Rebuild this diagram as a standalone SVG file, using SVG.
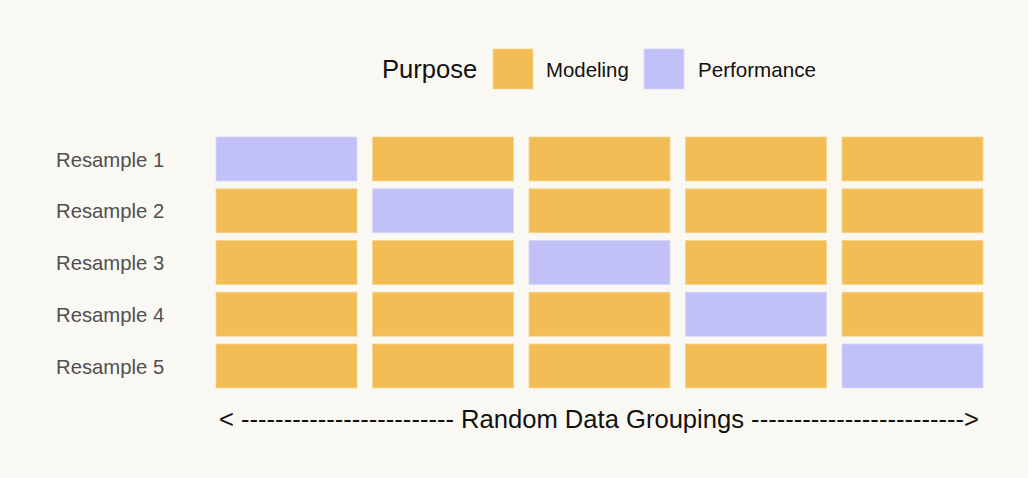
<svg xmlns="http://www.w3.org/2000/svg" width="1028" height="478" viewBox="0 0 1028 478">
<style>
.m{fill:#F3BD55;stroke:#F7D48F;stroke-width:0.8}
.p{fill:#C1C1F8;stroke:#D6D6FA;stroke-width:0.8}
.lbl{font-family:"Liberation Sans",Arial,sans-serif;font-size:20.3px;fill:#505050}
.t{font-family:"Liberation Sans",Arial,sans-serif;fill:#111}
</style>
<rect width="1028" height="478" fill="#FAF8F3"/>
<g id="legend">
<text class="t" x="382" y="78" font-size="25.6">Purpose</text>
<rect class="m" x="493" y="49" width="40" height="40"/>
<text class="t" x="546" y="77" font-size="20.4">Modeling</text>
<rect class="p" x="644" y="49" width="40" height="40"/>
<text class="t" x="698" y="77" font-size="20.6">Performance</text>
</g>
<g id="labels">
<text class="lbl" x="56" y="166.5">Resample 1</text>
<text class="lbl" x="56" y="218.3">Resample 2</text>
<text class="lbl" x="56" y="270.1">Resample 3</text>
<text class="lbl" x="56" y="321.9">Resample 4</text>
<text class="lbl" x="56" y="373.7">Resample 5</text>
</g>
<g id="row1">
<rect class="p" x="216" y="137" width="141" height="44"/>
<rect class="m" x="372.5" y="137" width="141" height="44"/>
<rect class="m" x="529" y="137" width="141" height="44"/>
<rect class="m" x="685.5" y="137" width="141" height="44"/>
<rect class="m" x="842" y="137" width="141" height="44"/>
</g>
<g id="row2">
<rect class="m" x="216" y="188.8" width="141" height="44"/>
<rect class="p" x="372.5" y="188.8" width="141" height="44"/>
<rect class="m" x="529" y="188.8" width="141" height="44"/>
<rect class="m" x="685.5" y="188.8" width="141" height="44"/>
<rect class="m" x="842" y="188.8" width="141" height="44"/>
</g>
<g id="row3">
<rect class="m" x="216" y="240.4" width="141" height="44"/>
<rect class="m" x="372.5" y="240.4" width="141" height="44"/>
<rect class="p" x="529" y="240.4" width="141" height="44"/>
<rect class="m" x="685.5" y="240.4" width="141" height="44"/>
<rect class="m" x="842" y="240.4" width="141" height="44"/>
</g>
<g id="row4">
<rect class="m" x="216" y="292.2" width="141" height="44"/>
<rect class="m" x="372.5" y="292.2" width="141" height="44"/>
<rect class="m" x="529" y="292.2" width="141" height="44"/>
<rect class="p" x="685.5" y="292.2" width="141" height="44"/>
<rect class="m" x="842" y="292.2" width="141" height="44"/>
</g>
<g id="row5">
<rect class="m" x="216" y="344" width="141" height="44"/>
<rect class="m" x="372.5" y="344" width="141" height="44"/>
<rect class="m" x="529" y="344" width="141" height="44"/>
<rect class="m" x="685.5" y="344" width="141" height="44"/>
<rect class="p" x="842" y="344" width="141" height="44"/>
</g>
<g id="axis">
<text class="t" x="219" y="428" font-size="25.5" textLength="760" lengthAdjust="spacingAndGlyphs">&lt; ------------------------- Random Data Groupings -------------------------&gt;</text>
</g>
</svg>
